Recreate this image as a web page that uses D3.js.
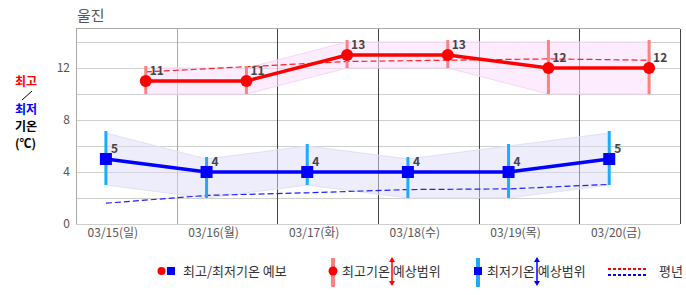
<!DOCTYPE html>
<html>
<head>
<meta charset="utf-8">
<script src="https://cdn.jsdelivr.net/npm/d3@7"></script>
<style>
  body { margin: 0; background: #fff; }
  text { font-family: "Noto Sans CJK KR", "Noto Sans", sans-serif; }
</style>
</head>
<body>
<div id="plot"></div>
<script>
// chart data
const days = ["03/15(일)", "03/16(월)", "03/17(화)", "03/18(수)", "03/19(목)", "03/20(금)"];
const highTemp = [11, 11, 13, 13, 12, 12];
const highMin = [10, 10, 12, 12, 10, 10];
const highMax = [12, 12, 14, 14, 14, 14];
const lowTemp = [5, 4, 4, 4, 4, 5];
const lowMin = [3, 2, 3, 2, 2, 3];
const lowMax = [7, 5, 6, 5, 6, 7];
const normalHigh = [11.7, 12.1, 12.5, 12.6, 12.7, 12.6];
const normalLow = [1.6, 2.2, 2.4, 2.65, 2.7, 3.05];
const yTicks = [0, 4, 8, 12];

const W = 686, H = 295;
const margin = { top: 29, right: 4, bottom: 71, left: 76 };

// time of day (fraction of a day) where the forecasts sit
const highHour = 0.693, lowHour = 0.297, labelHour = 0.366;

const svg = d3.select("#plot")
  .append("svg")
  .attr("width", W)
  .attr("height", H);

const x = d3.scaleLinear()
  .domain([0, days.length])
  .range([margin.left, W - margin.right - 2]);

const y = d3.scaleLinear()
  .domain([0, 15])
  .range([H - margin.bottom, margin.top]);

const hx = i => x(i + highHour);
const lx = i => x(i + lowHour);

// horizontal grid
svg.append("g")
  .selectAll("line")
  .data(d3.range(0, 15, 2))
  .enter()
  .append("line")
  .attr("x1", x(0))
  .attr("x2", x(days.length))
  .attr("y1", d => Math.round(y(d)) + 0.5)
  .attr("y2", d => Math.round(y(d)) + 0.5)
  .attr("stroke", "#cfcfcf");

// plot border (top, left)
svg.append("line")
  .attr("x1", x(0)).attr("x2", x(days.length))
  .attr("y1", Math.round(y(15)) - 0.5).attr("y2", Math.round(y(15)) - 0.5)
  .attr("stroke", "#aaa");
svg.append("line")
  .attr("x1", x(0) + 0.5).attr("x2", x(0) + 0.5)
  .attr("y1", y(15)).attr("y2", y(0))
  .attr("stroke", "#aaa");

// day separators
svg.append("g")
  .selectAll("line")
  .data(d3.range(1, days.length + 1))
  .enter()
  .append("line")
  .attr("x1", d => Math.round(x(d)) + 0.5)
  .attr("x2", d => Math.round(x(d)) + 0.5)
  .attr("y1", y(15))
  .attr("y2", y(0))
  .attr("stroke", d => d === 1 ? "#aaa" : "#444");

// range bands
const highArea = d3.area()
  .x((d, i) => hx(i))
  .y0((d, i) => y(highMin[i]))
  .y1(d => y(d));
svg.append("path")
  .datum(highMax)
  .attr("d", highArea)
  .attr("fill", "#fbe0fb")
  .attr("fill-opacity", 0.6)
  .attr("stroke", "#f6d6f6")
  .attr("stroke-width", 1);

const lowArea = d3.area()
  .x((d, i) => lx(i))
  .y0((d, i) => y(lowMin[i]))
  .y1(d => y(d));
svg.append("path")
  .datum(lowMax)
  .attr("d", lowArea)
  .attr("fill", "#dcdcf8")
  .attr("fill-opacity", 0.5)
  .attr("stroke", "#e0e0f8")
  .attr("stroke-width", 1);

// normals
svg.append("path")
  .datum(normalHigh)
  .attr("d", d3.line().x((d, i) => hx(i)).y(d => y(d)))
  .attr("fill", "none")
  .attr("stroke", "#ff2020")
  .attr("stroke-width", 1.2)
  .attr("stroke-dasharray", "6,3");

svg.append("path")
  .datum(normalLow)
  .attr("d", d3.line().x((d, i) => lx(i)).y(d => y(d)))
  .attr("fill", "none")
  .attr("stroke", "#2020ff")
  .attr("stroke-width", 1.2)
  .attr("stroke-dasharray", "6,3");

// error bars
svg.append("g")
  .selectAll("line")
  .data(highMax)
  .enter()
  .append("line")
  .attr("x1", (d, i) => hx(i))
  .attr("x2", (d, i) => hx(i))
  .attr("y1", d => y(d) - 2)
  .attr("y2", (d, i) => y(highMin[i]))
  .attr("stroke", "#ff8080")
  .attr("stroke-width", 3);

svg.append("g")
  .selectAll("line")
  .data(lowMax)
  .enter()
  .append("line")
  .attr("x1", (d, i) => lx(i))
  .attr("x2", (d, i) => lx(i))
  .attr("y1", d => y(d) - 2)
  .attr("y2", (d, i) => y(lowMin[i]))
  .attr("stroke", "#1eaaff")
  .attr("stroke-width", 3);

// forecast lines
svg.append("path")
  .datum(highTemp)
  .attr("d", d3.line().x((d, i) => hx(i)).y(d => y(d)))
  .attr("fill", "none")
  .attr("stroke", "#ff0000")
  .attr("stroke-width", 3.5);

svg.append("path")
  .datum(lowTemp)
  .attr("d", d3.line().x((d, i) => lx(i)).y(d => y(d)))
  .attr("fill", "none")
  .attr("stroke", "#0000ff")
  .attr("stroke-width", 3.5);

svg.append("g")
  .selectAll("circle")
  .data(highTemp)
  .enter()
  .append("circle")
  .attr("cx", (d, i) => hx(i))
  .attr("cy", d => y(d))
  .attr("r", 6)
  .attr("fill", "#ff0000");

svg.append("g")
  .selectAll("rect")
  .data(lowTemp)
  .enter()
  .append("rect")
  .attr("x", (d, i) => lx(i) - 6)
  .attr("y", d => y(d) - 6)
  .attr("width", 12)
  .attr("height", 12)
  .attr("fill", "#0000ff");

// value labels
svg.append("g")
  .selectAll("text")
  .data(highTemp)
  .enter()
  .append("text")
  .attr("x", (d, i) => hx(i) + 4)
  .attr("y", d => y(d) - 6)
  .attr("font-size", 12)
  .attr("font-weight", "bold")
  .attr("fill", "#444")
  .text(d => d);

svg.append("g")
  .selectAll("text")
  .data(lowTemp)
  .enter()
  .append("text")
  .attr("x", (d, i) => lx(i) + 5)
  .attr("y", d => y(d) - 6)
  .attr("font-size", 12)
  .attr("font-weight", "bold")
  .attr("fill", "#444")
  .text(d => d);

// y axis labels
svg.append("g")
  .selectAll("text")
  .data(yTicks)
  .enter()
  .append("text")
  .attr("x", x(0) - 6)
  .attr("y", d => y(d) + 4)
  .attr("text-anchor", "end")
  .attr("font-size", 12)
  .attr("fill", "#555")
  .text(d => d);

// x axis labels
svg.append("g")
  .selectAll("text")
  .data(days)
  .enter()
  .append("text")
  .attr("x", (d, i) => x(i + labelHour))
  .attr("y", y(0) + 13)
  .attr("text-anchor", "middle")
  .attr("font-size", 12)
  .attr("fill", "#555")
  .text(d => d);

// title
svg.append("text")
  .attr("x", 77)
  .attr("y", 21)
  .attr("font-size", 15)
  .attr("fill", "#555")
  .text("울진");

// left unit label
const unit = svg.append("g").attr("font-size", 12).attr("font-weight", "bold");
unit.append("text").attr("x", 15).attr("y", 86).attr("fill", "#ff0000").text("최고");
unit.append("line").attr("x1", 22).attr("y1", 100).attr("x2", 32).attr("y2", 91)
  .attr("stroke", "#000").attr("stroke-width", 1);
unit.append("text").attr("x", 15).attr("y", 114).attr("fill", "#0000ff").text("최저");
unit.append("text").attr("x", 15).attr("y", 131).attr("fill", "#000").text("기온");
unit.append("text").attr("x", 15).attr("y", 148).attr("fill", "#000").text("(℃)");

// legend
const lg = svg.append("g").attr("font-size", 13).attr("fill", "#333");
const ly = 271;

function arrow(g, cx, color) {
  g.append("line").attr("x1", cx).attr("x2", cx).attr("y1", ly - 11).attr("y2", ly + 12)
    .attr("stroke", color).attr("stroke-width", 1.5);
  g.append("path")
    .attr("d", `M${cx - 3},${ly - 9}L${cx},${ly - 14}L${cx + 3},${ly - 9}Z`)
    .attr("fill", color);
  g.append("path")
    .attr("d", `M${cx - 3},${ly + 10}L${cx},${ly + 15}L${cx + 3},${ly + 10}Z`)
    .attr("fill", color);
}

lg.append("circle").attr("cx", 161.5).attr("cy", ly).attr("r", 4).attr("fill", "#ff0000");
lg.append("rect").attr("x", 167).attr("y", ly - 4).attr("width", 8).attr("height", 8).attr("fill", "#0000ff");
lg.append("text").attr("x", 183).attr("y", ly + 5).text("최고/최저기온 예보");

lg.append("line").attr("x1", 333).attr("x2", 333).attr("y1", ly - 13).attr("y2", ly + 16)
  .attr("stroke", "#ff8080").attr("stroke-width", 4);
lg.append("circle").attr("cx", 333).attr("cy", ly).attr("r", 4.5).attr("fill", "#ff0000");
lg.append("text").attr("x", 342).attr("y", ly + 5).text("최고기온 예상범위");
arrow(lg, 392, "#ff0000");

lg.append("line").attr("x1", 478).attr("x2", 478).attr("y1", ly - 13).attr("y2", ly + 16)
  .attr("stroke", "#1eaaff").attr("stroke-width", 4);
lg.append("rect").attr("x", 474).attr("y", ly - 4).attr("width", 8).attr("height", 8).attr("fill", "#0000ff");
lg.append("text").attr("x", 487).attr("y", ly + 5).text("최저기온 예상범위");
arrow(lg, 537, "#0000ff");

lg.append("line").attr("x1", 608).attr("x2", 648).attr("y1", ly - 2).attr("y2", ly - 2)
  .attr("stroke", "#ff0000").attr("stroke-width", 2).attr("stroke-dasharray", "3,2");
lg.append("line").attr("x1", 608).attr("x2", 648).attr("y1", ly + 4).attr("y2", ly + 4)
  .attr("stroke", "#0000ff").attr("stroke-width", 2).attr("stroke-dasharray", "3,2");
lg.append("text").attr("x", 659).attr("y", ly + 5).text("평년");
</script>
</body>
</html>
